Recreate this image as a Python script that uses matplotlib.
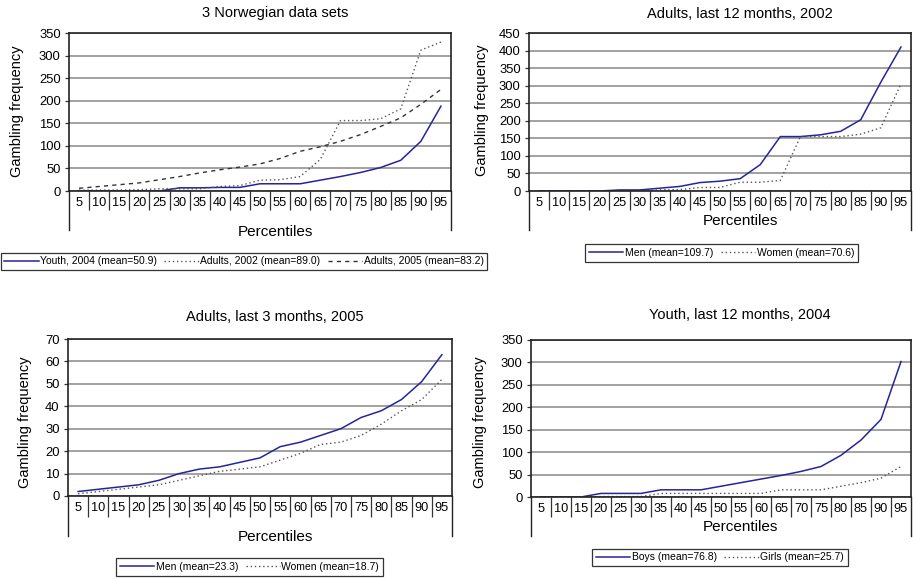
import numpy as np
import matplotlib
matplotlib.use("Agg")
import matplotlib.pyplot as plt

plt.rcParams['font.family'] = ['Liberation Sans', 'DejaVu Sans']

# Data
percentiles = [5, 10, 15, 20, 25, 30, 35, 40, 45, 50, 55, 60, 65, 70, 75, 80, 85, 90, 95]

# 3 Norwegian data sets
youth_2004 = [0, 0, 0, 0, 0, 7, 7, 8, 8, 16, 16, 16, 24, 32, 41, 52, 68, 110, 188]
adults_2002 = [2, 2, 2, 3, 5, 5, 5, 10, 12, 24, 25, 32, 70, 156, 156, 160, 182, 312, 330]
adults_2005 = [6, 10, 14, 18, 25, 32, 40, 47, 53, 60, 72, 88, 98, 110, 125, 143, 162, 192, 225]

# Adults, last 12 months, 2002
men_2002 = [0, 0, 0, 0, 3, 3, 8, 13, 24, 28, 35, 75, 155, 155, 160, 170, 203, 310, 410]
women_2002 = [0, 0, 0, 0, 1, 1, 3, 4, 10, 10, 25, 25, 30, 155, 155, 155, 162, 180, 305]

# Adults, last 3 months, 2005
men_2005 = [2, 3, 4, 5, 7, 10, 12, 13, 15, 17, 22, 24, 27, 30, 35, 38, 43, 51, 63]
women_2005 = [1, 2, 3, 4, 5, 7, 9, 11, 12, 13, 16, 19, 23, 24, 27, 32, 38, 43, 52]

# Youth, last 12 months, 2004
boys_2004 = [0, 0, 0, 8, 8, 8, 16, 16, 16, 24, 32, 40, 48, 57, 68, 93, 127, 173, 302]
girls_2004 = [0, 0, 0, 1, 1, 1, 8, 8, 8, 8, 8, 8, 16, 16, 16, 24, 32, 42, 68]

W, H = 913, 579
BLUE = '#25259a'
DOT = (0, (1, 2))
DASH = (0, (3, 3))

fig = plt.figure(figsize=(W / 100, H / 100), dpi=100)


def px_axes(left, top, right, bottom):
    return fig.add_axes([left / W, 1 - bottom / H, (right - left) / W, (bottom - top) / H])


def style_axes(ax, ymax, ystep, sep_len, side_len):
    n = len(percentiles)
    ax.set_xlim(-0.5, n - 0.5)
    ax.set_ylim(0, ymax)
    ax.set_yticks(np.arange(0, ymax + 1, ystep))
    ax.set_xticks(range(n))
    ax.set_xticklabels([str(p) for p in percentiles])
    ax.set_xticks(np.arange(0.5, n - 1, 1), minor=True)
    ax.tick_params(axis='x', which='major', length=0, pad=4, labelsize=9.2)
    ax.tick_params(axis='x', which='minor', length=sep_len * 0.72, width=0.9,
                   color='#333333', direction='out')
    ax.tick_params(axis='y', length=3, width=0.9, color='#333333', labelsize=9.4, pad=3)
    ax.grid(axis='y', color='#9a9a9a', linewidth=1.3)
    ax.set_axisbelow(True)
    for s in ax.spines.values():
        s.set_color('#222222')
        s.set_linewidth(1.2)
    # side lines continue down past the category labels
    h = ax.get_position().height * H
    for xa in (0, 1):
        ax.plot([xa, xa], [0, -side_len / h], transform=ax.transAxes, clip_on=False,
                color='#222222', lw=1.0)


def add_legend(ax, cx, cy, ncol):
    leg = ax.legend(loc='center', bbox_to_anchor=(cx / W, 1 - cy / H), bbox_transform=fig.transFigure,
                    ncol=ncol, fontsize=7.5, frameon=True, fancybox=False, edgecolor='black',
                    handlelength=3.3, handletextpad=0.15, columnspacing=0.7, borderpad=0.35,
                    borderaxespad=0)
    leg.get_frame().set_linewidth(0.9)


def fig_text(x, y, s, size, rot=0):
    fig.text(x / W, 1 - y / H, s, ha='center', va='center', fontsize=size, rotation=rot)


x = np.arange(len(percentiles))

# top left
ax1 = px_axes(69, 33, 451, 191)
ax1.plot(x, youth_2004, color=BLUE, lw=1.1, label='Youth, 2004 (mean=50.9)')
ax1.plot(x, adults_2002, color='#555555', lw=1.0, ls=DOT, label='Adults, 2002 (mean=89.0)')
ax1.plot(x, adults_2005, color='#333333', lw=1.0, ls=DASH, label='Adults, 2005 (mean=83.2)')
style_axes(ax1, 350, 50, 19, 39)
add_legend(ax1, 244, 261.5, 3)
fig_text(275, 13, '3 Norwegian data sets', 10.5)
fig_text(275, 232, 'Percentiles', 11)
fig_text(17, 111, 'Gambling frequency', 10.5, 90)

# top right
ax2 = px_axes(529, 33, 911, 191)
ax2.plot(x, men_2002, color=BLUE, lw=1.1, label='Men (mean=109.7)')
ax2.plot(x, women_2002, color='#555555', lw=1.0, ls=DOT, label='Women (mean=70.6)')
style_axes(ax2, 450, 50, 19, 39)
add_legend(ax2, 721.5, 253, 2)
fig_text(740, 14, 'Adults, last 12 months, 2002', 10.5)
fig_text(740, 221, 'Percentiles', 11)
fig_text(482, 110, 'Gambling frequency', 10.5, 90)

# bottom left
ax3 = px_axes(68, 339, 452, 496)
ax3.plot(x, men_2005, color=BLUE, lw=1.1, label='Men (mean=23.3)')
ax3.plot(x, women_2005, color='#555555', lw=1.0, ls=DOT, label='Women (mean=18.7)')
style_axes(ax3, 70, 10, 21, 40)
add_legend(ax3, 249.5, 567, 2)
fig_text(275, 317, 'Adults, last 3 months, 2005', 10.5)
fig_text(275, 537, 'Percentiles', 11)
fig_text(25, 422, 'Gambling frequency', 10.5, 90)

# bottom right
ax4 = px_axes(531, 340, 911, 497)
ax4.plot(x, boys_2004, color=BLUE, lw=1.1, label='Boys (mean=76.8)')
ax4.plot(x, girls_2004, color='#555555', lw=1.0, ls=DOT, label='Girls (mean=25.7)')
style_axes(ax4, 350, 50, 20, 39)
add_legend(ax4, 720, 557.5, 2)
fig_text(740, 315, 'Youth, last 12 months, 2004', 10.5)
fig_text(740, 527, 'Percentiles', 11)
fig_text(480, 422, 'Gambling frequency', 10.5, 90)

fig.savefig('out.png', dpi=100)
